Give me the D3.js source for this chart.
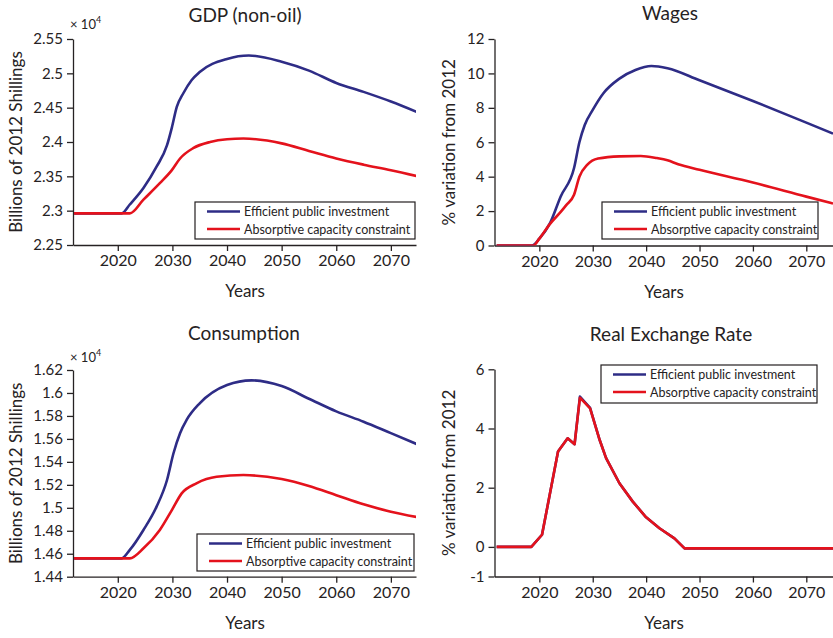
<!DOCTYPE html>
<html>
<head>
<meta charset="utf-8">
<script src="https://cdn.jsdelivr.net/npm/d3@7"></script>
<style>
  html, body { margin: 0; padding: 0; background: #ffffff; }
  svg { display: block; font-family: Lato, "Open Sans", sans-serif; }
</style>
</head>
<body>
<svg id="chart" width="833" height="638"></svg>
<script>
// ---------------- DATA ----------------
const seriesNames = ["Efficient public investment", "Absorptive capacity constraint"];
const xTickYears = [2020, 2030, 2040, 2050, 2060, 2070];

// GDP (non-oil), x 10^4 billions of 2012 shillings
const gdpEffYears = [2012, 2020.7, 2022.2, 2024.7, 2027.1, 2029, 2029.9, 2030.8, 2032, 2033.5, 2035, 2040, 2044, 2050, 2055, 2060, 2065, 2070, 2075];
const gdpEffVals  = [2.296, 2.296, 2.309, 2.333, 2.364, 2.395, 2.421, 2.451, 2.471, 2.490, 2.502, 2.521, 2.526, 2.517, 2.504, 2.486, 2.473, 2.459, 2.443];
const gdpAbsYears = [2012, 2022.2, 2024.7, 2027.7, 2029.9, 2031.4, 2033.8, 2036.9, 2040, 2043, 2050, 2055, 2060, 2065, 2070, 2075];
const gdpAbsVals  = [2.296, 2.296, 2.316, 2.340, 2.359, 2.376, 2.391, 2.400, 2.404, 2.405, 2.398, 2.387, 2.376, 2.367, 2.359, 2.350];
const gdpTicks = [2.25, 2.3, 2.35, 2.4, 2.45, 2.5, 2.55];

// Wages, % variation from 2012
const wageEffYears = [2012, 2018.6, 2020, 2022, 2024, 2026.5, 2027.5, 2028.5, 2030, 2032, 2035, 2038, 2041, 2044, 2050, 2060, 2070, 2075];
const wageEffVals  = [0, 0, 0.40, 1.30, 2.85, 4.50, 6.00, 7.00, 7.88, 8.85, 9.70, 10.20, 10.43, 10.30, 9.60, 8.40, 7.14, 6.50];
const wageAbsYears = [2012, 2018.9, 2020, 2022, 2024, 2025, 2026.5, 2027.5, 2029, 2031, 2035, 2039, 2042, 2044, 2046, 2050, 2060, 2070, 2075];
const wageAbsVals  = [0, 0, 0.40, 1.26, 1.95, 2.33, 2.95, 4.00, 4.70, 5.05, 5.18, 5.20, 5.08, 4.95, 4.72, 4.40, 3.66, 2.84, 2.44];
const wageTicks = [0, 2, 4, 6, 8, 10, 12];

// Consumption, x 10^4 billions of 2012 shillings
const consEffYears = [2012, 2020.7, 2022.2, 2024.7, 2027.1, 2029, 2030.2, 2031.4, 2032.6, 2035, 2040, 2044.5, 2050, 2055, 2060, 2065, 2070, 2075];
const consEffVals  = [1.456, 1.456, 1.4633, 1.4807, 1.501, 1.524, 1.5475, 1.565, 1.5765, 1.591, 1.607, 1.611, 1.606, 1.595, 1.584, 1.575, 1.565, 1.555];
const consAbsYears = [2012, 2022.2, 2024.7, 2027.7, 2029.9, 2031.7, 2034.4, 2038.1, 2043, 2050, 2055, 2060, 2065, 2070, 2075];
const consAbsVals  = [1.456, 1.456, 1.4647, 1.4807, 1.498, 1.5126, 1.5213, 1.527, 1.5285, 1.525, 1.519, 1.511, 1.503, 1.4966, 1.4917];
const consTicks = [1.44, 1.46, 1.48, 1.5, 1.52, 1.54, 1.56, 1.58, 1.6, 1.62];

// Real exchange rate, % variation from 2012
const rerYears   = [2012, 2018.5, 2020.5, 2023.5, 2025.3, 2026.6, 2027.6, 2029.5, 2031.3, 2032.5, 2035, 2037.5, 2040, 2042.5, 2045.3, 2047.2, 2075];
const rerEffVals = [0, 0, 0.41, 3.22, 3.67, 3.47, 5.08, 4.70, 3.61, 3.00, 2.15, 1.53, 1.00, 0.63, 0.29, -0.05, -0.05];
const rerAbsVals = [0, 0, 0.41, 3.22, 3.67, 3.47, 5.04, 4.68, 3.61, 3.00, 2.15, 1.53, 1.00, 0.63, 0.29, -0.05, -0.05];
const rerTicks = [-1, 0, 2, 4, 6];

// ---------------- STYLE / LAYOUT ----------------
const colors = ["#2e2c86", "#e4121c"];
const textColor = "#262223";
const axisColor = "#262223";

const zip = (xs, ys) => xs.map((x, i) => ({x, y: ys[i]}));

const panels = [
  { title: "GDP (non-oil)", titleX: 245, titleY: 22,
    xDom: [2011.8, 2074.6], xRange: [73, 416],
    yDom: [2.25, 2.55], yRange: [245, 39], yTicks: gdpTicks,
    yLabel: "Billions of 2012 Shillings", yLabelX: 15,
    exp: {x: 70, y: 29},
    series: [zip(gdpEffYears, gdpEffVals), zip(gdpAbsYears, gdpAbsVals)],
    curve: d3.curveMonotoneX,
    legend: {x: 195, y: 202, w: 220, h: 37},
    fmt: d => String(+d.toFixed(2)) },
  { title: "Wages", titleX: 670, titleY: 20,
    xDom: [2011.6, 2075], xRange: [494.5, 833],
    yDom: [0, 12], yRange: [245.5, 39], yTicks: wageTicks,
    yLabel: "% variation from 2012", yLabelX: 448,
    exp: null,
    series: [zip(wageEffYears, wageEffVals), zip(wageAbsYears, wageAbsVals)],
    curve: d3.curveMonotoneX,
    legend: {x: 602, y: 202, w: 216, h: 37},
    fmt: d => String(d) },
  { title: "Consumption", titleX: 244, titleY: 340,
    xDom: [2011.8, 2074.6], xRange: [73, 416],
    yDom: [1.44, 1.62], yRange: [576.7, 370], yTicks: consTicks,
    yLabel: "Billions of 2012 Shillings", yLabelX: 15,
    exp: {x: 70, y: 362},
    series: [zip(consEffYears, consEffVals), zip(consAbsYears, consAbsVals)],
    curve: d3.curveMonotoneX,
    legend: {x: 197, y: 534, w: 217, h: 37},
    fmt: d => String(+d.toFixed(2)) },
  { title: "Real Exchange Rate", titleX: 671, titleY: 341,
    xDom: [2011.6, 2075], xRange: [494.5, 833],
    yDom: [-1, 6], yRange: [576.5, 369.3], yTicks: rerTicks,
    yLabel: "% variation from 2012", yLabelX: 448,
    exp: null,
    series: [zip(rerYears, rerEffVals), zip(rerYears, rerAbsVals)],
    curve: d3.curveLinear,
    legend: {x: 601, y: 365, w: 216, h: 38},
    fmt: d => String(d) }
];

const svg = d3.select("#chart");

panels.forEach((p, pi) => {
  const x = d3.scaleLinear().domain(p.xDom).range(p.xRange);
  const y = d3.scaleLinear().domain(p.yDom).range(p.yRange);
  const g = svg.append("g");

  const clipId = "clip" + pi;
  svg.append("clipPath").attr("id", clipId)
    .append("rect")
    .attr("x", p.xRange[0]).attr("y", p.yRange[1] - 10)
    .attr("width", p.xRange[1] - p.xRange[0])
    .attr("height", p.yRange[0] - p.yRange[1] + 10);

  const xAxis = d3.axisBottom(x).tickValues(xTickYears).tickSize(6).tickPadding(4).tickSizeOuter(0)
    .tickFormat(d3.format("d"));
  const gx = g.append("g").attr("transform", `translate(0,${p.yRange[0]})`).call(xAxis);
  gx.selectAll("text").attr("font-size", 16).attr("fill", textColor)
    .attr("font-family", "Lato, sans-serif");

  const yAxis = d3.axisLeft(y).tickValues(p.yTicks).tickSize(6).tickPadding(4).tickSizeOuter(0)
    .tickFormat(p.fmt);
  const gy = g.append("g").attr("transform", `translate(${p.xRange[0]},0)`).call(yAxis);
  gy.selectAll("text").attr("font-size", 15).attr("fill", textColor)
    .attr("font-family", "Lato, sans-serif");

  [gx, gy].forEach(a => {
    a.selectAll("path, line").attr("stroke", axisColor).attr("stroke-width", 1.3);
  });

  const line = d3.line().x(d => x(d.x)).y(d => y(d.y)).curve(p.curve);
  const lg = g.append("g").attr("clip-path", `url(#${clipId})`);
  p.series.forEach((s, si) => {
    lg.append("path").datum(s)
      .attr("d", line)
      .attr("fill", "none")
      .attr("stroke", colors[si])
      .attr("stroke-width", 2.6)
      .attr("stroke-linejoin", "round");
  });

  g.append("text").attr("x", p.titleX).attr("y", p.titleY)
    .attr("text-anchor", "middle").attr("font-size", 19).attr("fill", textColor)
    .text(p.title);

  g.append("text").attr("x", (pi % 2 === 0) ? 245 : 664).attr("y", p.yRange[0] + 52)
    .attr("text-anchor", "middle").attr("font-size", 17).attr("fill", textColor)
    .text("Years");

  const cy = (p.yRange[0] + p.yRange[1]) / 2;
  g.append("text")
    .attr("transform", `translate(${p.yLabelX},${cy}) rotate(-90)`)
    .attr("text-anchor", "middle").attr("dominant-baseline", "central")
    .attr("font-size", 17).attr("fill", textColor)
    .text(p.yLabel);

  if (p.exp) {
    const t = g.append("text").attr("x", p.exp.x).attr("y", p.exp.y)
      .attr("font-size", 13).attr("fill", textColor);
    t.append("tspan").text("× 10");
    t.append("tspan").attr("font-size", 9).attr("dy", -6).text("4");
  }

  const L = p.legend;
  const leg = g.append("g");
  leg.append("rect").attr("x", L.x).attr("y", L.y).attr("width", L.w).attr("height", L.h)
    .attr("fill", "#ffffff").attr("stroke", "#231f20").attr("stroke-width", 1.2);
  seriesNames.forEach((name, i) => {
    const ry = L.y + 9.5 + i * 17.5;
    leg.append("line").attr("x1", L.x + 12).attr("x2", L.x + 45)
      .attr("y1", ry).attr("y2", ry)
      .attr("stroke", colors[i]).attr("stroke-width", 2.6);
    leg.append("text").attr("x", L.x + 49).attr("y", ry)
      .attr("dominant-baseline", "central")
      .attr("font-size", 12.5).attr("fill", textColor)
      .text(name);
  });
});
</script>
</body>
</html>
